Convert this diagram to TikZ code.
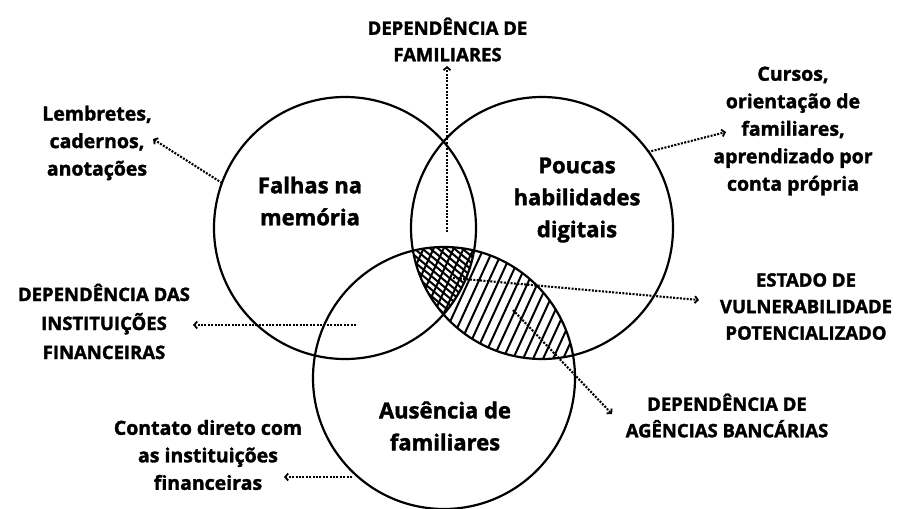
\documentclass[tikz,border=0pt]{standalone}
\usepackage{fontspec}
\setmainfont{Open Sans}[BoldFeatures={FakeBold=1.6}]
\usetikzlibrary{arrows.meta}
\begin{document}
\begin{tikzpicture}[x=1pt,y=-1pt,
  ring/.style={draw, circle, minimum size=262pt, inner sep=0pt, line width=2.2pt},
  lbl/.style={font=\bfseries\fontsize{22}{32}\selectfont, align=center, inner sep=0pt},
  side/.style={font=\bfseries\fontsize{19.5}{27.5}\selectfont, align=center, inner sep=0pt},
  caps/.style={font=\bfseries\fontsize{18.5}{26.5}\selectfont, align=center, inner sep=0pt},
  hatch/.style={line width=2pt},
  arr/.style={line width=2.1pt, dash pattern=on 2pt off 1.4pt, -{Straight Barb[length=3pt,width=7pt,line width=1.8pt]}}
]
\useasboundingbox (0,0) rectangle (901,508);
\fill[white] (0,0) rectangle (901,508);

% hatching in B and C
\begin{scope}
  \clip (542,228) circle[radius=131];
  \clip (444,378) circle[radius=131];
  \foreach \c in {370,380,...,660}
    \draw[hatch] (\c+55,180) -- (\c-55,420);
  \clip (345,228) circle[radius=131];
  \foreach \c in {320,328,...,560}
    \draw[hatch] (\c-60,220) -- (\c+60,320);
\end{scope}

% circles
\node[ring] (A) at (345,228) {};
\node[ring] (B) at (542,228) {};
\node[ring] (C) at (444,378) {};

% circle labels
\node[lbl] (la) at (310,201) {Falhas na\\mem\'oria};
\node[lbl] (lb) at (577,200) {Poucas\\habilidades\\digitais};
\node[lbl] (lc) at (445,426) {Aus\^encia de\\familiares};

% outer texts
\node[caps] (tdep) at (447.5,39.5) {DEPEND\^ENCIA DE\\FAMILIARES};
\node[side] (tlem) at (97,143) {Lembretes,\\cadernos,\\anota\c{c}\~oes};
\node[side] (tcur) at (793,131) {Cursos,\\orienta\c{c}\~ao de\\familiares,\\aprendizado por\\conta pr\'opria};
\node[caps, font=\bfseries\fontsize{18.5}{29}\selectfont] (tins) at (104,321.5) {DEPEND\^ENCIA DAS\\INSTITUI\c{C}\~OES\\FINANCEIRAS};
\node[caps] (test) at (806,306.5) {ESTADO DE\\VULNERABILIDADE\\POTENCIALIZADO};
\node[caps] (tage) at (727,415.5) {DEPEND\^ENCIA DE\\AG\^ENCIAS BANC\'ARIAS};
\node[side] (tcon) at (208,455) {Contato direto com\\as institui\c{c}\~oes\\financeiras};

% connector ends
\coordinate (s1) at (447,232); \coordinate (e1) at (447,66);
\coordinate (s2) at (222,183); \coordinate (e2) at (153,139);
\coordinate (s3) at (648,152); \coordinate (e3) at (726,132);
\coordinate (s4) at (356,325); \coordinate (e4) at (193,325);
\coordinate (s5) at (453,278); \coordinate (e5) at (699,300);
\coordinate (s6) at (513,310); \coordinate (e6) at (612,414);
\coordinate (s7) at (352,477); \coordinate (e7) at (284,477);

\draw[arr] (s1) -- (e1);
\draw[arr] (s2) -- (e2);
\draw[arr] (s3) -- (e3);
\draw[arr] (s4) -- (e4);
\draw[arr] (s5) -- (e5);
\draw[arr] (s6) -- (e6);
\draw[arr] (s7) -- (e7);
\end{tikzpicture}
\end{document}
